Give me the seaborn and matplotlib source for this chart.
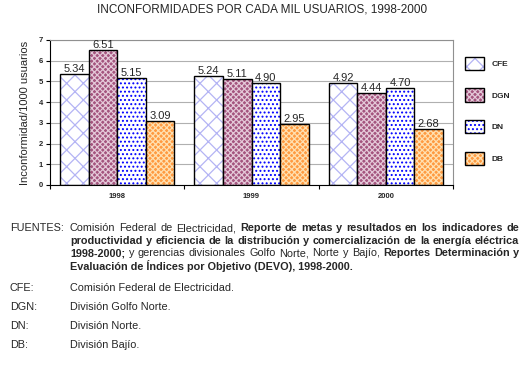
import matplotlib
matplotlib.use("Agg")
import matplotlib.pyplot as plt
import matplotlib.colors as mcolors
import seaborn as sns
import pandas as pd

years = ['1998', '1999', '2000']
series_names = ['CFE', 'DGN', 'DN', 'DB']
cfe = [5.34, 5.24, 4.92]
dgn = [6.51, 5.11, 4.44]
dn = [5.15, 4.90, 4.70]
db = [3.09, 2.95, 2.68]
y_ticks = [0, 1, 2, 3, 4, 5, 6, 7]

title = 'INCONFORMIDADES POR CADA MIL USUARIOS, 1998-2000'
ylabel = 'Inconformidad/1000 usuarios'

sns.set_theme(style='white')
plt.rcParams['font.family'] = ['Liberation Sans', 'DejaVu Sans']
plt.rcParams['hatch.linewidth'] = 0.9

df = pd.DataFrame({
    'year': years * 4,
    'serie': sum([[s] * 3 for s in series_names], []),
    'value': cfe + dgn + dn + db,
})

fig = plt.figure(figsize=(5.26, 3.81), dpi=100)
ax = fig.add_axes([50 / 526, 1 - 185 / 381, 403 / 526, 145 / 381])
sns.barplot(data=df, x='year', y='value', hue='serie', hue_order=series_names,
            width=0.85, ax=ax, errorbar=None, legend=False, saturation=1)

styles = {
    'CFE': dict(face='white', hatch='xx', hcolor='#b4b4f4'),
    'DGN': dict(face='#a4547e', hatch='xxxxxx', hcolor='#e4c8d8'),
    'DN': dict(face='white', hatch='....', hcolor='#0000ff'),
    'DB': dict(face='#ff9a40', hatch='xxxxxx', hcolor='#ffe0b0'),
}
for name, cont in zip(series_names, ax.containers):
    st = styles[name]
    for p in cont.patches:
        p.set_facecolor(st['face'])
        p.set_hatch(st['hatch'])
        p.set_edgecolor('black')
        p.set_linewidth(1.0)
        p._hatch_color = mcolors.to_rgba(st['hcolor'])
    ax.bar_label(cont, fmt='%.2f', fontsize=8, padding=0)

ax.set_ylim(0, 7)
ax.set_xlim(-0.5, 2.5)
ax.set_yticks(y_ticks)
ax.set_yticklabels([str(t) for t in y_ticks], fontsize=5.5, fontweight='bold')
ax.set_xticks(range(len(years)))
ax.set_xticklabels(years, fontsize=5.5, fontweight='bold')
ax.set_xticks([-0.5, 0.5, 1.5, 2.5], minor=True)
ax.tick_params(axis='x', which='major', length=0, pad=6)
ax.tick_params(axis='x', which='minor', length=3, width=0.8, color='black', direction='out', bottom=True)
ax.tick_params(axis='y', length=3, width=0.8, color='black', direction='out', left=True, pad=2)
ax.set_xlabel('')
ax.set_ylabel(ylabel, fontsize=8, labelpad=6)
ax.yaxis.grid(True, color='#b0b0b0', linewidth=0.8)
ax.set_axisbelow(True)
for side in ['top', 'right']:
    ax.spines[side].set_color('#909090')
    ax.spines[side].set_linewidth(0.8)
for side in ['left', 'bottom']:
    ax.spines[side].set_color('black')
    ax.spines[side].set_linewidth(0.8)

handles = [c.patches[0] for c in ax.containers]
leg = fig.legend(handles, series_names, loc='upper left',
                 bbox_to_anchor=(457 / 526, 1 - 49 / 381), frameon=False,
                 handlelength=2.3, handleheight=2.1, labelspacing=2.2,
                 handletextpad=0.9, prop={'size': 6, 'weight': 'bold'})

fig.text(262 / 526, 1 - 9 / 381, title, ha='center', va='center', fontsize=8.5)

# Notes below the chart
renderer = fig.canvas.get_renderer()
fs = 7.8
x0 = 70 / 526
x_right = 519 / 526


def text_width(txt, wt):
    t = fig.text(0, 0, txt, fontsize=fs, fontweight=wt)
    w = t.get_window_extent(renderer=renderer).width / fig.bbox.width
    t.remove()
    return w


def draw_line(segments, ypix, justify):
    y = 1 - ypix / 381
    if not justify:
        x = x0
        for txt, wt in segments:
            t = fig.text(x, y, txt, fontsize=fs, fontweight=wt, ha='left', va='center')
            x += t.get_window_extent(renderer=renderer).width / fig.bbox.width
        return
    words = []
    for txt, wt in segments:
        for w in txt.split():
            words.append((w, wt))
    widths = [text_width(w, wt) for w, wt in words]
    gap = (x_right - x0 - sum(widths)) / (len(words) - 1)
    x = x0
    for (w, wt), wd in zip(words, widths):
        fig.text(x, y, w, fontsize=fs, fontweight=wt, ha='left', va='center')
        x += wd + gap


fig.text(10 / 526, 1 - 228 / 381, 'FUENTES:', fontsize=fs, ha='left', va='center')
lines = [
    [('Comisión Federal de Electricidad, ', 'normal'),
     ('Reporte de metas y resultados en los indicadores de', 'bold')],
    [('productividad y eficiencia de la distribución y comercialización de la energía eléctrica', 'bold')],
    [('1998-2000;', 'bold'), (' y gerencias divisionales Golfo Norte, Norte y Bajío, ', 'normal'),
     ('Reportes Determinación y', 'bold')],
    [('Evaluación de Índices por Objetivo (DEVO), 1998-2000.', 'bold')],
]
for i, segs in enumerate(lines):
    draw_line(segs, 228 + i * 12.5, justify=(i < 3))

abbr = ['CFE:', 'DGN:', 'DN:', 'DB:']
meaning = ['Comisión Federal de Electricidad.', 'División Golfo Norte.',
           'División Norte.', 'División Bajío.']
for i, (a, m) in enumerate(zip(abbr, meaning)):
    yp = 288 + i * 19
    fig.text(10 / 526, 1 - yp / 381, a, fontsize=fs, ha='left', va='center')
    fig.text(x0, 1 - yp / 381, m, fontsize=fs, ha='left', va='center')

fig.savefig('out.png', dpi=100)
